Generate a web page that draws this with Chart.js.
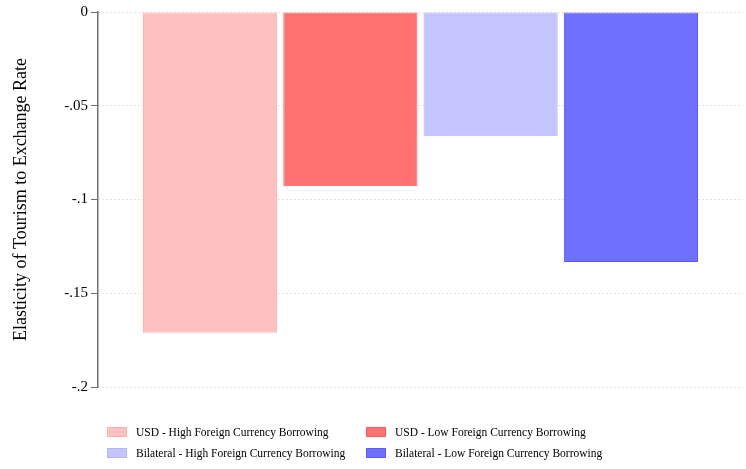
<!DOCTYPE html>
<html>
<head>
<meta charset="utf-8">
<script src="https://cdn.jsdelivr.net/npm/chart.js@4/dist/chart.umd.min.js"></script>
<style>
  html, body { margin: 0; padding: 0; background: #fff; }
  #wrap { position: relative; width: 746px; height: 469px; }
  #legend { position: absolute; left: 107px; top: 426px; font-family: "Liberation Serif", "Times New Roman", serif; font-size: 11.5px; color: #000; }
  .li { position: absolute; white-space: nowrap; display: flex; align-items: center; height: 12px; }
  .sw { width: 20px; height: 10px; box-sizing: border-box; border: 1px solid; margin-right: 9px; }
</style>
</head>
<body>
<div id="wrap">
  <canvas id="c" width="746" height="469"></canvas>
  <div id="legend"></div>
</div>
<script>
const categories = [''];
const seriesNames = [
  'USD - High Foreign Currency Borrowing',
  'USD - Low Foreign Currency Borrowing',
  'Bilateral - High Foreign Currency Borrowing',
  'Bilateral - Low Foreign Currency Borrowing'
];
const usdHigh = [-0.1711];
const usdLow = [-0.0929];
const bilateralHigh = [-0.0663];
const bilateralLow = [-0.1333];
const tickValues = [0, -0.05, -0.1, -0.15, -0.2];
const tickLabels = ['0', '-.05', '-.1', '-.15', '-.2'];
const fillColors = ['#ffc0c0', '#ff7070', '#c4c4ff', '#7070ff'];
const borderColors = ['#ffb0b0', '#ff5c5c', '#b4b4ff', '#5a5aff'];

const values = [usdHigh, usdLow, bilateralHigh, bilateralLow];
const datasets = seriesNames.map((name, i) => ({
  label: name,
  data: values[i],
  backgroundColor: fillColors[i],
  borderColor: borderColors[i],
  borderWidth: 1,
  borderSkipped: false,
  categoryPercentage: 0.87,
  barPercentage: 0.956
}));

Chart.defaults.font.family = '"Liberation Serif", "Times New Roman", serif';
Chart.defaults.color = '#000';

const chart = new Chart(document.getElementById('c'), {
  type: 'bar',
  data: { labels: categories, datasets },
  options: {
    responsive: false,
    animation: false,
    events: [],
    layout: { padding: { top: 10, right: 3, bottom: 82, left: 10 } },
    plugins: { legend: { display: false }, tooltip: { enabled: false } },
    scales: {
      x: { display: false },
      y: {
        min: -0.2, max: 0,
        afterFit: (s) => { s.width = 88; },
        afterBuildTicks: (s) => { s.ticks = tickValues.map(v => ({ value: v })); },
        ticks: {
          font: { size: 15 },
          padding: 3,
          callback: (v) => { const i = tickValues.findIndex(t => Math.abs(t - v) < 1e-9); return i >= 0 ? tickLabels[i] : ''; }
        },
        grid: {
          color: '#c8c8c8',
          lineWidth: 1,
          tickColor: '#707070',
          tickBorderDash: [],
          tickLength: 7,
          drawTicks: true
        },
        border: { display: true, color: '#707070', width: 1.5, dash: [1, 3] },
        title: {
          display: true,
          text: 'Elasticity of Tourism to Exchange Rate',
          font: { size: 18 },
          padding: { top: 0, bottom: 6 }
        }
      }
    }
  }
});

const leg = document.getElementById('legend');
const pos = [[0, 0], [259, 0], [0, 21], [259, 21]];
chart.data.datasets.forEach((ds, i) => {
  const d = document.createElement('div');
  d.className = 'li';
  d.style.left = pos[i][0] + 'px';
  d.style.top = pos[i][1] + 'px';
  const sw = document.createElement('span');
  sw.className = 'sw';
  sw.style.background = ds.backgroundColor;
  sw.style.borderColor = ds.borderColor;
  const t = document.createElement('span');
  t.textContent = ds.label;
  d.appendChild(sw); d.appendChild(t);
  leg.appendChild(d);
});
</script>
</body>
</html>
